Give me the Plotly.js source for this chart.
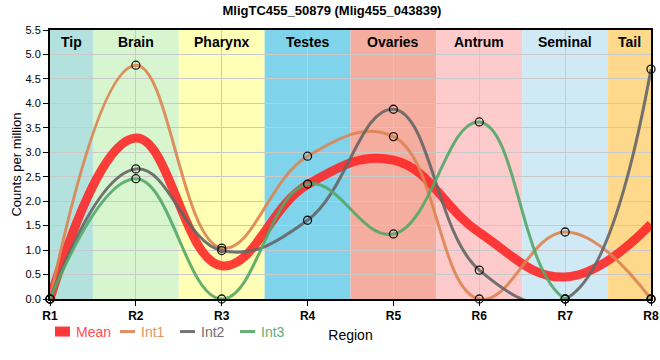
<!DOCTYPE html>
<html>
<head>
<meta charset="utf-8">
<script src="https://cdn.plot.ly/plotly-3.0.1.min.js"></script>
<style>html,body{margin:0;padding:0;background:#fff}#chart{width:660px;height:360px}</style>
</head>
<body>
<div id="chart"></div>
<script>
var regions = ['R1', 'R2', 'R3', 'R4', 'R5', 'R6', 'R7', 'R8'];
var meanVals = [0, 3.29, 0.68, 2.34, 2.84, 1.36, 0.45, 1.53];
var int1Vals = [0, 4.78, 1.04, 2.92, 3.32, 0, 1.37, 0];
var int2Vals = [0, 2.66, 0.99, 1.61, 3.88, 0.59, 0, 4.70];
var int3Vals = [0, 2.46, 0, 2.35, 1.33, 3.62, 0, 0];
var tissueNames = ['Tip', 'Brain', 'Pharynx', 'Testes', 'Ovaries', 'Antrum', 'Seminal', 'Tail'];
var tissueColors = ['#b3e2de', '#d7f5cf', '#ffffb5', '#7fd4ec', '#f4ad9f', '#fdcbcc', '#cfeaf5', '#fed98b'];
var seriesNames = ['Mean', 'Int1', 'Int2', 'Int3'];
var seriesColors = ['#ff2424', '#dd8452', '#666666', '#55a868'];
var legendTextColors = ['#ff4b55', '#e6945e', '#6e6e6e', '#62ad73'];

var FONT = 'Liberation Sans, Arial, sans-serif';
var seriesVals = [meanVals, int1Vals, int2Vals, int3Vals];

var traces = seriesVals.map(function (vals, i) {
  var isMean = i === 0;
  return {
    x: regions,
    y: vals,
    name: seriesNames[i],
    type: 'scatter',
    mode: isMean ? 'lines' : 'lines+markers',
    line: {shape: 'spline', smoothing: 1.2, color: seriesColors[i], width: isMean ? 9 : 3},
    opacity: isMean ? 0.88 : 0.9,
    marker: {symbol: 'circle-open', size: 8, color: '#000', line: {width: 1.3, color: '#000'}},
    cliponaxis: false,
    showlegend: false,
    hoverinfo: 'x+y+name'
  };
});

var shapes = [];
var annotations = [];
tissueNames.forEach(function (name, i) {
  shapes.push({
    type: 'rect', layer: 'below', xref: 'x', yref: 'paper',
    x0: i - 0.5, x1: i + 0.5, y0: 0, y1: 1,
    fillcolor: tissueColors[i], line: {width: 0}
  });
  annotations.push({
    text: '<b>' + name + '</b>', xref: 'x', yref: 'paper',
    x: i === 0 ? 0.25 : (i === 7 ? 6.75 : i), y: 1, yanchor: 'top', yshift: -2,
    showarrow: false, font: {family: FONT, size: 14, color: '#000'}
  });
});

// custom legend below the plot
var legendX = [0.0083, 0.1165, 0.2163, 0.3161];
var legendY = -0.121;
seriesNames.forEach(function (name, i) {
  shapes.push({
    type: 'line', xref: 'paper', yref: 'paper',
    x0: legendX[i], x1: legendX[i] + 0.025, y0: legendY, y1: legendY,
    line: {color: seriesColors[i], width: i === 0 ? 10 : 3}, opacity: 0.9
  });
  annotations.push({
    text: name, xref: 'paper', yref: 'paper',
    x: legendX[i] + 0.031, y: legendY, xanchor: 'left', yanchor: 'middle',
    showarrow: false, font: {family: FONT, size: 14, color: legendTextColors[i]}
  });
});

var layout = {
  width: 660, height: 360,
  margin: {l: 50, r: 9, t: 30, b: 61},
  paper_bgcolor: '#fff', plot_bgcolor: '#fff',
  font: {family: FONT, size: 12, color: '#000'},
  title: {text: '<b>MligTC455_50879 (Mlig455_043839)</b>', x: 0.503, xref: 'container', y: 0.972, yref: 'container', yanchor: 'middle', font: {family: FONT, size: 13, color: '#000'}},
  xaxis: {
    type: 'category', categoryorder: 'array', categoryarray: regions,
    range: [0, 7], showgrid: true, gridcolor: '#c9c9c9', gridwidth: 1,
    showline: true, linecolor: '#000', linewidth: 2, mirror: true,
    ticks: 'outside', ticklen: 5, tickcolor: '#000',
    tickfont: {family: FONT, size: 12, color: '#000', weight: 'bold'},
    title: {text: 'Region', font: {family: FONT, size: 14, color: '#000'}, standoff: 8},
    zeroline: false, fixedrange: true
  },
  yaxis: {
    range: [0, 5.5], dtick: 0.5, tickformat: '.1f',
    showgrid: true, gridcolor: '#c9c9c9', gridwidth: 1,
    showline: true, linecolor: '#000', linewidth: 2, mirror: true,
    ticks: 'outside', ticklen: 5, tickcolor: '#000',
    tickfont: {family: FONT, size: 11, color: '#000'},
    title: {text: 'Counts per million', font: {family: FONT, size: 13, color: '#000'}, standoff: 1},
    zeroline: false, fixedrange: true
  },
  showlegend: false,
  shapes: shapes,
  annotations: annotations
};

Plotly.newPlot('chart', traces, layout, {displayModeBar: false, staticPlot: true});
</script>
</body>
</html>
